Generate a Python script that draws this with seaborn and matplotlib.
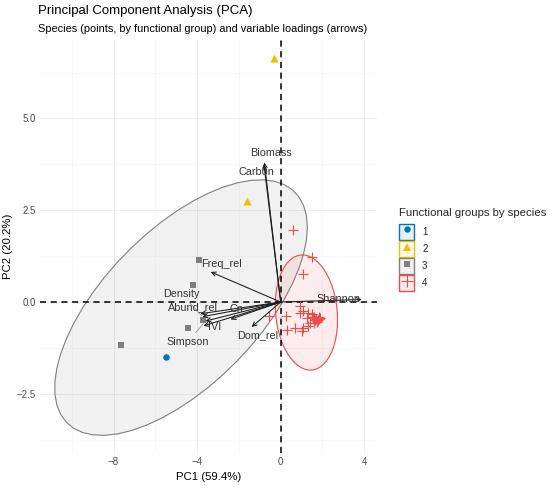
import numpy as np
import pandas as pd
import matplotlib
matplotlib.use("Agg")
import matplotlib.pyplot as plt
from matplotlib.patches import Polygon, Rectangle
from matplotlib.lines import Line2D
from matplotlib.legend_handler import HandlerTuple
import seaborn as sns

# ---------------- data ----------------
grp1_x = [-5.50]
grp1_y = [-1.50]
grp2_x = [-0.32, -1.63]
grp2_y = [6.64, 2.75]
grp3_x = [-3.89, -4.21, -3.70, -4.42, -7.63]
grp3_y = [1.14, 0.46, -0.48, -0.72, -1.16]
grp4_x = [0.60, 1.51, 1.05, -0.55, 0.92, 1.05, 0.92, 0.25, 1.32, 1.48, 1.24,
          1.56, 1.72, 1.82, 1.90, 1.40, 1.30, 1.08, 0.70, 0.30, 1.00, 1.60,
          1.70, 1.78, 1.65, 1.85, 1.60, 1.75]
grp4_y = [1.95, 1.23, 0.75, -0.39, -0.12, -0.25, -0.31, -0.38, -0.30, -0.33, -0.44,
          -0.42, -0.52, -0.47, -0.44, -0.58, -0.66, -0.72, -0.70, -0.76, -0.78, -0.56,
          -0.45, -0.50, -0.48, -0.42, -0.40, -0.55]

variables = ["Biomass", "Carbon", "Freq_rel", "Density", "Abund_rel",
             "Cn", "IVI", "Simpson", "Dom_rel", "Shannon"]
load_pc1 = [-0.78, -0.80, -3.35, -3.75, -3.85, -2.40, -3.70, -3.60, -1.39, 3.88]
load_pc2 = [3.80, 3.74, 0.82, -0.40, -0.32, -0.47, -0.65, -0.52, -0.68, 0.07]

group_labels = ["1", "2", "3", "4"]
pc1_label = "PC1 (59.4%)"
pc2_label = "PC2 (20.2%)"

# ---------------- styling ----------------
colors = {"1": "#0073C2", "2": "#EFC000", "3": "#7F7F7F", "4": "#EE4B4B"}
markers = {"1": "o", "2": "^", "3": "s", "4": "+"}
# label offsets (points) relative to arrow tip
label_offsets = {
    "Biomass": (4.8, 6.7), "Carbon": (-5.4, -5.0), "Freq_rel": (8.1, 5.5),
    "Density": (-15.1, 16.6), "Abund_rel": (-5.3, 4.5), "Cn": (4.0, 7.2),
    "IVI": (7.9, -1.1), "Simpson": (-12.7, -15.1), "Dom_rel": (4.5, -6.0),
    "Shannon": (-17.0, 0.6),
}
repel_segments = {"Density", "Simpson"}

sns.set_theme(style="whitegrid")
plt.rcParams["font.family"] = ["Liberation Sans", "DejaVu Sans"]

df = pd.DataFrame({
    "PC1": grp1_x + grp2_x + grp3_x + grp4_x,
    "PC2": grp1_y + grp2_y + grp3_y + grp4_y,
    "group": (["1"] * len(grp1_x) + ["2"] * len(grp2_x)
              + ["3"] * len(grp3_x) + ["4"] * len(grp4_x)),
})


def stat_ellipse_norm(x, y, level=0.95, segments=51):
    X = np.column_stack([x, y])
    n = len(X)
    center = X.mean(axis=0)
    shape = np.cov(X, rowvar=False, ddof=1)
    R = np.linalg.cholesky(shape).T
    dfd = n - 1
    qf = dfd / 2.0 * ((1 - level) ** (-2.0 / dfd) - 1)  # F(2, dfd) quantile
    radius = np.sqrt(2 * qf)
    ang = np.arange(segments + 1) * 2 * np.pi / segments
    circ = np.column_stack([np.cos(ang), np.sin(ang)])
    return center + radius * circ @ R


fig = plt.figure(figsize=(5.5, 4.86), dpi=100)
ax = fig.add_axes([40 / 550, 1 - 453.3 / 486, (377 - 40) / 550, (453.3 - 39.5) / 486])
ax.set_facecolor("white")

# ellipses
for g, gx, gy in [("3", grp3_x, grp3_y), ("4", grp4_x, grp4_y)]:
    e = stat_ellipse_norm(np.array(gx), np.array(gy))
    fill = matplotlib.colors.to_rgba(colors[g], 0.1)
    ax.add_patch(Polygon(e, closed=True, facecolor=fill, edgecolor=colors[g],
                         lw=0.8, zorder=2))

# reference lines
ax.axhline(0, color="black", lw=1.1, ls=(0, (4, 3)), zorder=3)
ax.axvline(0, color="black", lw=1.1, ls=(0, (4, 3)), zorder=3)

# points
size_map = {"1": 22, "2": 34, "3": 22}
for g in ["1", "2", "3"]:
    sub = df[df.group == g]
    sns.scatterplot(data=sub, x="PC1", y="PC2", ax=ax, color=colors[g],
                    marker=markers[g], s=size_map[g], linewidth=0, zorder=4,
                    legend=False)
sub4 = df[df.group == "4"]
sns.scatterplot(data=sub4, x="PC1", y="PC2", ax=ax, color=colors["4"],
                marker="+", s=55, linewidth=0.8, zorder=4, legend=False)

# loadings arrows
for v, lx, ly in zip(variables, load_pc1, load_pc2):
    ax.annotate("", xy=(lx, ly), xytext=(0, 0),
                arrowprops=dict(arrowstyle="->", lw=0.75, color="#1a1a1a",
                                shrinkA=0, shrinkB=0, mutation_scale=7.5),
                zorder=5)
for v, lx, ly in zip(variables, load_pc1, load_pc2):
    off = label_offsets[v]
    kw = dict(xy=(lx, ly), xytext=off, textcoords="offset points",
              ha="center", va="center", fontsize=7.8, color="#333333", zorder=6)
    if v in repel_segments:
        kw["arrowprops"] = dict(arrowstyle="-", lw=0.5, color="#8a8a8a",
                                shrinkA=1, shrinkB=1)
    ax.annotate(v, **kw)

# axes / grid
ax.set_xlim(-11.52, 4.61)
ax.set_ylim(-4.12, 7.15)
ax.set_xticks([-8, -4, 0, 4])
ax.set_xticklabels(["\u22128", "\u22124", "0", "4"])
ax.set_yticks([-2.5, 0, 2.5, 5])
ax.set_yticklabels(["\u22122.5", "0.0", "2.5", "5.0"])
ax.set_xticks([-10, -6, -2, 2], minor=True)
ax.set_yticks([-3.75, -1.25, 1.25, 3.75, 6.25], minor=True)
ax.grid(which="major", color="#EBEBEB", lw=0.6)
ax.grid(which="minor", color="#F4F4F4", lw=0.4)
ax.tick_params(axis="both", which="both", length=0, labelsize=7, labelcolor="#4D4D4D", pad=3)
for s in ax.spines.values():
    s.set_visible(False)
ax.set_xlabel(pc1_label, fontsize=8.2, color="black", labelpad=3)
ax.set_ylabel(pc2_label, fontsize=8.2, color="black", labelpad=3)

fig.text(38 / 550, 1 - 11 / 486, "Principal Component Analysis (PCA)", fontsize=9.5,
         ha="left", va="center", color="black")
fig.text(38 / 550, 1 - 29 / 486,
         "Species (points, by functional group) and variable loadings (arrows)",
         fontsize=7.95, ha="left", va="center", color="black")

# legend
handles = []
for g in group_labels:
    rect = Rectangle((0, 0), 1, 1, facecolor=matplotlib.colors.to_rgba(colors[g], 0.1),
                     edgecolor=colors[g], lw=1.0)
    if g == "4":
        mk = Line2D([], [], marker="+", color=colors[g], ls="", markersize=8, mew=0.8)
    else:
        mk = Line2D([], [], marker=markers[g], color=colors[g], ls="",
                    markersize=4.6 if g != "2" else 5.6, mew=0)
    handles.append((rect, mk))
leg = fig.legend(handles, group_labels,
                 handler_map={tuple: HandlerTuple(ndivide=1, pad=0)},
                 loc="upper left", bbox_to_anchor=(392 / 550, 1 - 201 / 486),
                 frameon=False, title="Functional groups by species",
                 fontsize=7, title_fontsize=8.2, handlelength=1.6, handleheight=2.075,
                 labelspacing=0.16, handletextpad=0.8, borderpad=0.2)
leg._legend_box.align = "left"
leg._legend_box.sep = 4.5

fig.savefig("out.png", dpi=100, facecolor="white")
